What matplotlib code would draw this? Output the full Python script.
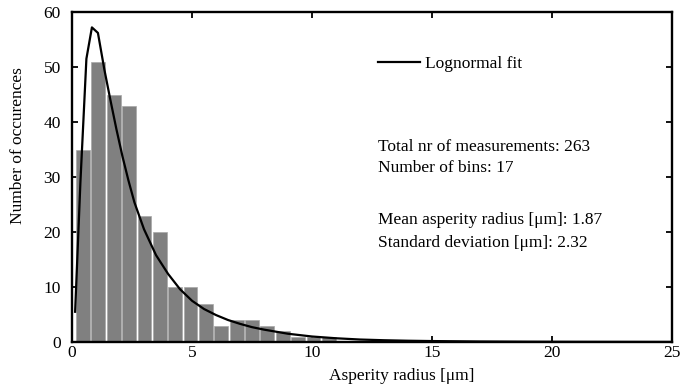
import numpy as np
import matplotlib.pyplot as plt

# Histogram of asperity radii (17 bins) and the lognormal fit
bin_centers = [0.46, 1.10, 1.74, 2.38, 3.02, 3.66, 4.30, 4.94, 5.58,
               6.22, 6.86, 7.50, 8.14, 8.78, 9.42, 10.06, 10.70]
counts = [35, 51, 45, 43, 23, 20, 10, 10, 7, 3, 4, 4, 3, 2, 1, 1, 1]
bin_width = 0.64

fit_x = [0.13, 0.35, 0.6, 0.83, 1.08, 1.35, 1.6, 1.85, 2.1, 2.35, 2.6, 3.0,
         3.5, 4.0, 4.5, 5.0, 5.5, 6.0, 6.5, 7.0, 7.5, 8.0, 9.0, 10.0, 11.0,
         12.0, 13.0, 14.0, 15.0, 17.0, 19.0, 21.0, 23.0, 25.0]
fit_y = [5.5, 29.0, 51.5, 57.2, 56.2, 49.5, 44.0, 38.7, 33.8, 29.4, 25.4, 20.5,
         15.8, 12.4, 9.6, 7.5, 6.0, 4.9, 4.0, 3.3, 2.7, 2.25, 1.5, 1.0, 0.68,
         0.45, 0.32, 0.23, 0.17, 0.09, 0.05, 0.03, 0.02, 0.01]

xticks = [0, 5, 10, 15, 20, 25]
yticks = [0, 10, 20, 30, 40, 50, 60]

plt.rcParams["font.family"] = ["Liberation Serif", "DejaVu Serif"]
plt.rcParams["font.size"] = 12.5

fig = plt.figure(figsize=(6.82, 3.92), dpi=100)
ax = fig.add_axes([72 / 682, 50 / 392, 600 / 682, 330 / 392])

ax.bar(bin_centers, counts, width=bin_width * 0.9, color="#808080",
       edgecolor="#a8a8a8", linewidth=0.5, zorder=2)
ax.plot(fit_x, fit_y, color="black", linewidth=1.6, label="Lognormal fit", zorder=3)

ax.set_xlim(0, 25)
ax.set_ylim(0, 60)
ax.set_xticks(xticks)
ax.set_yticks(yticks)
ax.tick_params(direction="in", top=True, right=True, length=4, width=1.3)
ax.tick_params(axis="y", pad=8)
ax.tick_params(axis="x", pad=2)
for s in ax.spines.values():
    s.set_linewidth(1.7)

ax.set_xlabel("Asperity radius [μm]")
ax.set_ylabel("Number of occurences")
ax.xaxis.set_label_coords(0.55, -0.08)
ax.yaxis.set_label_coords(-0.077, 0.594)

ax.legend(loc="center left", bbox_to_anchor=(0.51, 0.842), frameon=False,
          borderpad=0, borderaxespad=0, handlelength=2.4, handletextpad=0.3)

ax.text(0.51, 0.591, "Total nr of measurements: 263", transform=ax.transAxes, va="center")
ax.text(0.51, 0.527, "Number of bins: 17", transform=ax.transAxes, va="center")
ax.text(0.51, 0.370, "Mean asperity radius [μm]: 1.87", transform=ax.transAxes, va="center")
ax.text(0.51, 0.300, "Standard deviation [μm]: 2.32", transform=ax.transAxes, va="center")

fig.savefig("out.png", dpi=100)
